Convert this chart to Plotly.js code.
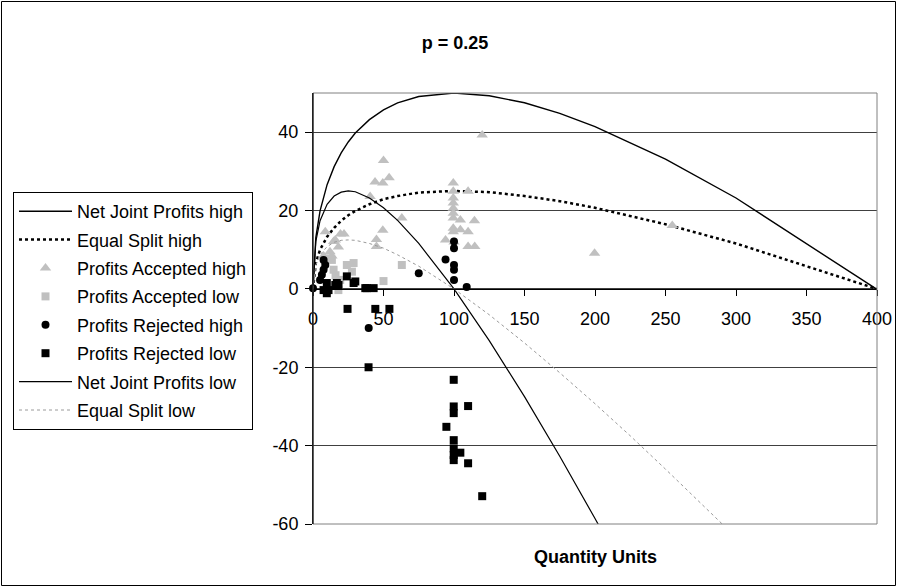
<!DOCTYPE html>
<html>
<head>
<meta charset="utf-8">
<script src="https://cdn.plot.ly/plotly-3.0.1.min.js"></script>
<style>
html,body{margin:0;padding:0;background:#fff;}
#chart{width:897px;height:587px;}
</style>
</head>
<body>
<div id="chart"></div>
<script>
// ---- Data ----
var chartTitle = "p = 0.25";
var xTitle = "Quantity Units";
var seriesNames = ["Net Joint Profits high", "Equal Split high", "Profits Accepted high",
  "Profits Accepted low", "Profits Rejected high", "Profits Rejected low",
  "Net Joint Profits low", "Equal Split low"];

// Net Joint Profits high (solid)
var njpHighQ = [0, 2, 5, 10, 15, 20, 25, 30, 40, 50, 60, 75, 100, 125, 150, 175, 200, 250, 300, 400, 405];
var njpHighY = [0, 13.1, 19.9, 26.6, 31.2, 34.7, 37.5, 39.8, 43.2, 45.7, 47.5, 49.1, 50, 49.3, 47.5, 44.8, 41.4, 33.1, 23.2, 0, -1.3];

// Equal Split high (dotted)
var esHighQ = [0, 2, 5, 10, 15, 20, 25, 30, 40, 50, 60, 75, 100, 125, 150, 175, 200, 250, 300, 400, 405];
var esHighY = [0, 6.6, 10, 13.3, 15.6, 17.4, 18.8, 19.9, 21.6, 22.9, 23.7, 24.6, 25, 24.7, 23.7, 22.4, 20.7, 16.5, 11.6, 0, -0.6];

// Net Joint Profits low (solid)
var njpLowQ = [0, 2, 5, 10, 15, 20, 25, 30, 40, 50, 60, 75, 100, 125, 150, 175, 200, 210];
var njpLowY = [0, 12.1, 17.4, 21.6, 23.7, 24.7, 25, 24.8, 23.2, 20.7, 17.5, 11.6, 0, -13.2, -27.5, -42.7, -58.6, -65.1];

// Equal Split low (light dotted)
var esLowQ = [0, 2, 5, 10, 15, 20, 25, 30, 40, 50, 60, 75, 100, 125, 150, 175, 200, 225, 250, 300];
var esLowY = [0, 6.1, 8.7, 10.8, 11.9, 12.4, 12.5, 12.4, 11.6, 10.4, 8.7, 5.8, 0, -6.6, -13.8, -21.4, -29.3, -37.5, -46, -63.4];

// Profits Accepted high (grey triangles)
var accHighQ = [120, 50, 44, 49.5, 54, 40.5, 63, 49.5, 45, 45, 19.5, 22, 8.7, 14.6, 12, 13.4, 18, 15.8, 7.5,
  99.5, 99.5, 99.5, 99.5, 99.5, 99.5, 99.5, 99.5, 99.5, 110, 104.5, 114.5, 104.5, 110, 94, 110, 114.7, 100,
  254.8, 199.7];
var accHighY = [39.3, 32.8, 27.3, 27, 28.4, 23.6, 18.1, 15, 12.6, 10.8, 14, 14, 14.6, 12.1, 9.5, 8.4, 10.7, 12.5, 8.4,
  27, 24.9, 23.2, 21.9, 20.6, 19.3, 18.1, 15.5, 14.6, 24.9, 17.6, 17.4, 15.1, 14.6, 12.5, 10.8, 10.8, 12,
  16.2, 9.1];

// Profits Accepted low (grey squares)
var accLowQ = [14.6, 24, 28.8, 63, 50, 19.3, 12.2, 13.4, 18, 27.6, 16];
var accLowY = [4.9, 6.1, 6.6, 6.1, 2, 2.3, 7.8, 7.4, -0.3, 4.4, 3.5];

// Profits Rejected high (black circles)
var rejHighQ = [0, 7.5, 8.7, 7.5, 6.3, 5, 75, 94, 100, 100, 100, 100, 100, 109, 39.5];
var rejHighY = [0.2, 7.4, 6.1, 4.9, 3.6, 2.3, 4, 7.5, 12.1, 10.4, 6.1, 4.9, 2.3, 0.5, -10];

// Profits Rejected low (black squares)
var rejLowQ = [24.5, 44.2, 54.2, 39.4, 99.8, 99.8, 99.8, 110, 94.6, 99.8, 99.8, 99.8, 99.8, 104.5, 110, 120,
  9.8, 11, 7.5, 9.8, 16.9, 15.8, 18.1, 24, 28.8, 30, 37.1, 38.2, 43];
var rejLowY = [-5.1, -5.1, -5.1, -20, -23.2, -30, -31.7, -29.9, -35.2, -38.6, -40.7, -42.4, -43.7, -41.8, -44.5, -52.9,
  -1.1, -0.3, -0.3, 1.5, 1.5, 1, 1, 3.2, 1.5, 1.9, 0.2, 0.2, 0.2];

var xTickVals = [0, 50, 100, 150, 200, 250, 300, 350, 400];
var xTickText = ["0", "50", "100", "150", "200", "250", "300", "350", "400"];
var yTickVals = [-60, -40, -20, 0, 20, 40];
var yTickText = ["-60", "-40", "-20", "0", "20", "40"];

// ---- Chart ----
var FONT = "Liberation Sans, Arial, sans-serif";
function grp(i){ return "g" + i; }

var traces = [
  {x: njpHighQ, y: njpHighY, name: seriesNames[0], mode: "lines", legendgroup: grp(0),
   line: {color: "#000", width: 1.4}},
  {x: esHighQ, y: esHighY, name: seriesNames[1], mode: "lines", legendgroup: grp(1),
   line: {color: "#000", width: 2.5, dash: "dot"}},
  {x: accHighQ, y: accHighY, name: seriesNames[2], mode: "markers", legendgroup: grp(2), cliponaxis: false,
   marker: {symbol: "triangle-up", color: "#c0c0c0", size: 10}},
  {x: accLowQ, y: accLowY, name: seriesNames[3], mode: "markers", legendgroup: grp(3), cliponaxis: false,
   marker: {symbol: "square", color: "#c0c0c0", size: 8}},
  {x: rejHighQ, y: rejHighY, name: seriesNames[4], mode: "markers", legendgroup: grp(4), cliponaxis: false,
   marker: {symbol: "circle", color: "#000", size: 8}},
  {x: rejLowQ, y: rejLowY, name: seriesNames[5], mode: "markers", legendgroup: grp(5), cliponaxis: false,
   marker: {symbol: "square", color: "#000", size: 8}},
  {x: njpLowQ, y: njpLowY, name: seriesNames[6], mode: "lines", legendgroup: grp(6),
   line: {color: "#000", width: 1.2}},
  {x: esLowQ, y: esLowY, name: seriesNames[7], mode: "lines", legendgroup: grp(7),
   line: {color: "#9a9a9a", width: 1, dash: "dot"}}
];

var L = 313, R = 20, T = 93, B = 63;
var W = 897, H = 587;
var pw = W - L - R, ph = H - T - B;
function px2paperX(p){ return (p - L) / pw; }
function px2paperY(p){ return (H - B - p) / ph; }

var layout = {
  width: W, height: H,
  margin: {l: L, r: R, t: T, b: B, pad: 0},
  paper_bgcolor: "#fff", plot_bgcolor: "#fff",
  font: {family: FONT, size: 18, color: "#000"},
  showlegend: true,
  title: {text: "<b>" + chartTitle + "</b>", font: {family: FONT, size: 18, color: "#000"},
          xref: "paper", x: px2paperX(455), xanchor: "center",
          yref: "container", y: 1 - 43 / H, yanchor: "middle"},
  xaxis: {
    range: [0, 400], anchor: "free", position: 60 / 110,
    tickvals: xTickVals, ticktext: xTickText,
    showgrid: false, zeroline: false,
    showline: true, linecolor: "#000", linewidth: 1,
    ticks: "outside", ticklen: 6, tickcolor: "#000", tickwidth: 1,
    ticklabelstandoff: 7,
    tickfont: {family: FONT, size: 18, color: "#000"}
  },
  yaxis: {
    range: [-60, 50], tickvals: yTickVals, ticktext: yTickText,
    showgrid: true, gridcolor: "#404040", gridwidth: 1, zeroline: false,
    showline: true, linecolor: "#000", linewidth: 1,
    ticks: "outside", ticklen: 7, tickcolor: "#000", tickwidth: 1,
    ticklabelstandoff: 3,
    tickfont: {family: FONT, size: 18, color: "#000"}
  },
  legend: {
    x: px2paperX(13), xanchor: "left", y: px2paperY(192), yanchor: "top",
    bordercolor: "#000", borderwidth: 1, bgcolor: "#fff",
    font: {family: FONT, size: 18, color: "#000"},
    itemwidth: 53, tracegroupgap: 2, traceorder: "grouped"
  },
  annotations: [
    {text: "<b>" + xTitle + "</b>", xref: "paper", yref: "paper", x: 0.5, y: px2paperY(557),
     xanchor: "center", yanchor: "middle", showarrow: false,
     font: {family: FONT, size: 18, color: "#000"}}
  ],
  shapes: [
    {type: "rect", xref: "paper", yref: "paper", x0: 0, x1: 1, y0: 0, y1: 1,
     line: {color: "#808080", width: 1}, layer: "above"},
    {type: "line", xref: "paper", yref: "paper", x0: 0, x1: 0, y0: 0, y1: 1,
     line: {color: "#000", width: 1}, layer: "above"},
    {type: "rect", xref: "paper", yref: "paper",
     x0: px2paperX(1.5), x1: px2paperX(895.5), y0: px2paperY(585.5), y1: px2paperY(1.5),
     line: {color: "#000", width: 1}, layer: "below"}
  ]
};

Plotly.newPlot("chart", traces, layout, {staticPlot: true, displayModeBar: false});
</script>
</body>
</html>
